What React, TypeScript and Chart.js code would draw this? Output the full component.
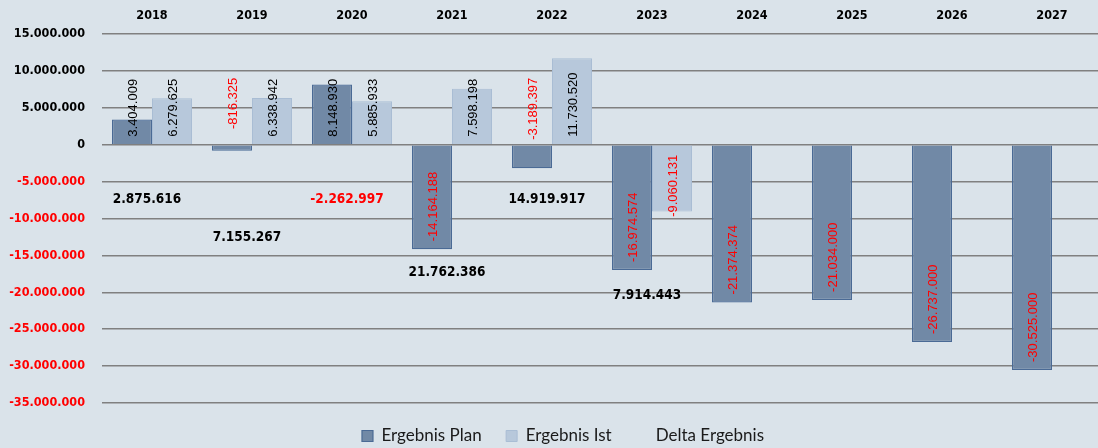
import React, { useEffect, useRef } from "react";
import { Chart, registerables } from "chart.js";

Chart.register(...registerables);

const years = ["2018", "2019", "2020", "2021", "2022", "2023", "2024", "2025", "2026", "2027"];
const ergebnisPlan = [3404009, -816325, 8148930, -14164188, -3189397, -16974574, -21374374, -21034000, -26737000, -30525000];
const ergebnisIst = [6279625, 6338942, 5885933, 7598198, 11730520, -9060131, null, null, null, null];
const deltaErgebnis = [2875616, 7155267, -2262997, 21762386, 14919917, 7914443, null, null, null, null];
// value level at which each delta label sits
const deltaLabelAt = [-7450000, -12600000, -7450000, -17350000, -7450000, -20450000, null, null, null, null];
const yMin = -35000000;
const yMax = 15000000;
const yStep = 5000000;

const BG = "#DAE3EA";

function fmt(n: number): string {
  const s = Math.abs(Math.round(n)).toString().replace(/\B(?=(\d{3})+(?!\d))/g, ".");
  return (n < 0 ? "-" : "") + s;
}

export default function App() {
  const ref = useRef<HTMLCanvasElement | null>(null);

  useEffect(() => {
    document.body.style.margin = "0";
    const canvas = ref.current;
    if (!canvas) return;

    const bgPlugin = {
      id: "bg",
      beforeDraw(chart: any) {
        const c = chart.ctx;
        c.save();
        c.fillStyle = BG;
        c.fillRect(0, 0, chart.width, chart.height);
        c.restore();
      },
    };

    const legendFit = {
      id: "legendFit",
      beforeInit(chart: any) {
        const leg = chart.legend;
        if (leg) {
          const orig = leg.fit;
          leg.fit = function () {
            orig.call(this);
            this.height = 45;
          };
        }
      },
      afterLayout(chart: any) {
        const leg = chart.legend;
        if (leg) {
          leg.left += 12;
          leg.right += 12;
        }
      },
    };

    const labelPlugin = {
      id: "labels",
      afterDatasetsDraw(chart: any) {
        const c = chart.ctx;
        const yScale = chart.scales.y;
        const y0 = yScale.getPixelForValue(0);
        c.save();
        c.font = "13px 'Liberation Sans', Arial, sans-serif";
        c.textAlign = "left";
        c.textBaseline = "middle";
        [0, 1].forEach((di) => {
          const meta = chart.getDatasetMeta(di);
          const data = chart.data.datasets[di].data;
          meta.data.forEach((bar: any, i: number) => {
            const v = data[i];
            if (v === null || v === undefined) return;
            const str = fmt(v);
            const len = c.measureText(str).width;
            let start: number;
            if (v >= 0) {
              start = y0 - 8;
            } else {
              const barLen = bar.y - y0;
              if (barLen < len) {
                start = y0 - 67 + len;
              } else {
                start = bar.y - 8;
                if (start - len < y0 + 10) start = y0 + 10 + len;
              }
            }
            c.save();
            c.translate(bar.x + 1, start);
            c.rotate(-Math.PI / 2);
            c.fillStyle = v < 0 ? "#FF0000" : "#000000";
            c.fillText(str, 0, 0);
            c.restore();
          });
        });
        // delta labels
        const meta2 = chart.getDatasetMeta(2);
        c.font = "bold 13.5px 'DejaVu Sans Condensed', 'DejaVu Sans', sans-serif";
        c.textAlign = "center";
        c.textBaseline = "middle";
        meta2.data.forEach((pt: any, i: number) => {
          const v = deltaErgebnis[i];
          if (v === null || v === undefined || deltaLabelAt[i] === null) return;
          c.fillStyle = v < 0 ? "#FF0000" : "#000000";
          c.fillText(fmt(v), pt.x - 5, pt.y);
        });
        c.restore();
      },
    };

    const tickFont = { family: "'DejaVu Sans Condensed', 'DejaVu Sans', sans-serif", size: 12.5, weight: "bold" };

    const chart = new Chart(canvas, {
      type: "bar",
      data: {
        labels: years,
        datasets: [
          {
            label: "Ergebnis Plan",
            data: ergebnisPlan,
            backgroundColor: "#7189A6",
            borderColor: "#4A6A95",
            borderWidth: 1.2,
            categoryPercentage: 0.8,
            barPercentage: 1.0,
          },
          {
            label: "Ergebnis Ist",
            data: ergebnisIst as any,
            backgroundColor: "#B7C8DB",
            borderColor: "#A9BDD4",
            borderWidth: 1,
            categoryPercentage: 0.8,
            barPercentage: 1.0,
          },
          {
            type: "line",
            label: "Delta Ergebnis",
            data: deltaLabelAt as any,
            showLine: false,
            pointRadius: 0,
            backgroundColor: "rgba(0,0,0,0)",
            borderColor: "rgba(0,0,0,0)",
            borderWidth: 0,
          } as any,
        ],
      },
      options: {
        responsive: false,
        animation: false,
        devicePixelRatio: 1,
        layout: { padding: 0 },
        plugins: {
          legend: {
            position: "bottom",
            labels: {
              font: { family: "Lato", size: 17 },
              color: "#1a1a1a",
              boxWidth: 11,
              boxHeight: 11,
              padding: 24.5,
            },
          },
          tooltip: { enabled: false },
          title: { display: false },
        },
        scales: {
          x: {
            position: "top",
            grid: { display: false, drawTicks: false },
            border: { display: false },
            ticks: {
              color: "#000",
              font: tickFont,
              padding: 11,
            },
            afterFit(scale: any) {
              scale.height = 34;
            },
          },
          y: {
            min: yMin,
            max: yMax,
            grid: { color: "#808080", lineWidth: 1.5, drawTicks: false },
            border: { display: false },
            ticks: {
              stepSize: yStep,
              padding: 17,
              font: tickFont,
              color: (ctx: any) => (ctx.tick && ctx.tick.value < 0 ? "#FF0000" : "#000000"),
              callback: (v: any) => fmt(Number(v)),
            },
            afterFit(scale: any) {
              scale.width = 102;
            },
          },
        },
      } as any,
      plugins: [bgPlugin, legendFit, labelPlugin],
    });

    return () => chart.destroy();
  }, []);

  return (
    <div style={{ width: 1098, height: 448, overflow: "hidden", background: BG, position: "relative" }}>
      <canvas ref={ref} width={1102} height={448} style={{ display: "block", width: 1102, height: 448 }} />
    </div>
  );
}
